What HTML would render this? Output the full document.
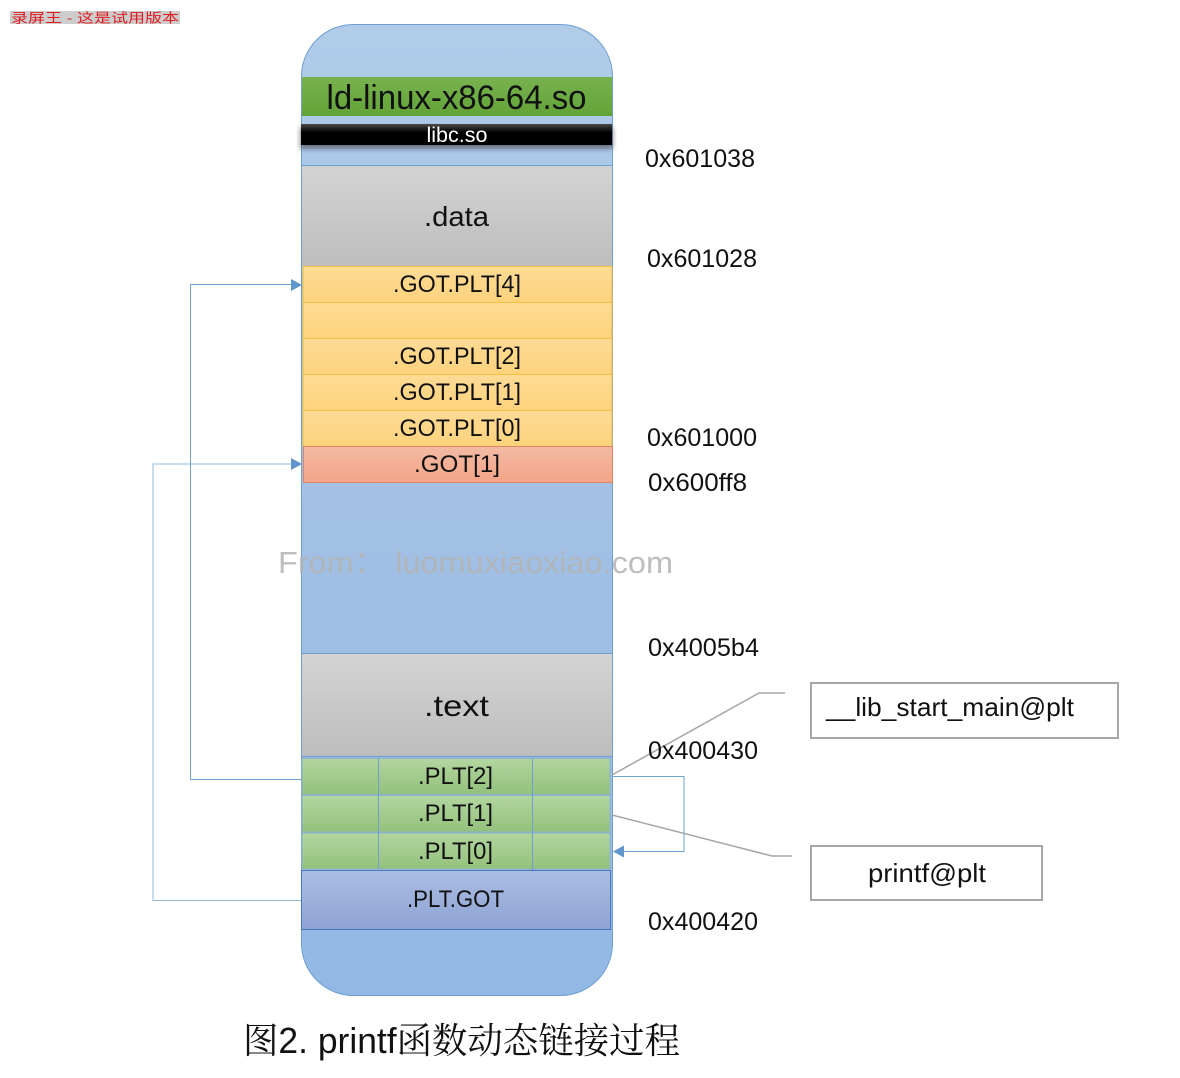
<!DOCTYPE html>
<html><head><meta charset="utf-8"><style>
html,body{margin:0;padding:0;background:#fff;width:1180px;height:1078px;overflow:hidden}
svg{display:block}
text{font-family:"Liberation Sans","Noto Sans CJK SC",sans-serif;fill:#111}
</style></head><body>
<svg width="1180" height="1078" viewBox="0 0 1180 1078" xmlns="http://www.w3.org/2000/svg">
<defs>
<linearGradient id="o" x1="0" y1="0" x2="0" y2="1"><stop offset="0" stop-color="#b0cce9"/><stop offset=".5" stop-color="#a3c0e4"/><stop offset="1" stop-color="#91b9e4"/></linearGradient>
<linearGradient id="g1" x1="0" y1="0" x2="0" y2="1"><stop offset="0" stop-color="#78b24f"/><stop offset="1" stop-color="#62a337"/></linearGradient>
<linearGradient id="k" x1="0" y1="0" x2="0" y2="1"><stop offset="0" stop-color="#4a4a4a"/><stop offset=".4" stop-color="#000"/><stop offset="1" stop-color="#000"/></linearGradient>
<linearGradient id="gr" x1="0" y1="0" x2="0" y2="1"><stop offset="0" stop-color="#d3d3d3"/><stop offset="1" stop-color="#bdbdbd"/></linearGradient>
<linearGradient id="y" x1="0" y1="0" x2="0" y2="1"><stop offset="0" stop-color="#fedb95"/><stop offset="1" stop-color="#fdd27c"/></linearGradient>
<linearGradient id="r" x1="0" y1="0" x2="0" y2="1"><stop offset="0" stop-color="#f3bba4"/><stop offset="1" stop-color="#f4a488"/></linearGradient>
<linearGradient id="p" x1="0" y1="0" x2="0" y2="1"><stop offset="0" stop-color="#b3d6a0"/><stop offset="1" stop-color="#93c17b"/></linearGradient>
<linearGradient id="b" x1="0" y1="0" x2="0" y2="1"><stop offset="0" stop-color="#abbde3"/><stop offset="1" stop-color="#8ea3d4"/></linearGradient>
<filter id="s" x="-5%" y="-50%" width="110%" height="220%"><feGaussianBlur stdDeviation="2.5"/></filter>
</defs>

<rect x="10" y="11" width="170" height="13" fill="#cdcdcd"/>
<text x="11" y="22.500" font-size="13" style="fill:#e01a20" textLength="168" lengthAdjust="spacingAndGlyphs">录屏王 - 这是试用版本</text>

<rect x="301.500" y="24.500" width="311" height="971" rx="52" ry="52" fill="url(#o)" stroke="#6f9fd2" stroke-width="1"/>

<rect x="302" y="77" width="310" height="39" fill="url(#g1)"/>
<text x="456.500" y="109" font-size="34" text-anchor="middle" textLength="260" lengthAdjust="spacingAndGlyphs">ld-linux-x86-64.so</text>

<rect x="300" y="127" width="313" height="22" fill="#333" opacity=".55" filter="url(#s)"/>
<rect x="301" y="124" width="311" height="21" fill="url(#k)"/>
<text x="457" y="142" font-size="21" text-anchor="middle" style="fill:#fff" textLength="61" lengthAdjust="spacingAndGlyphs">libc.so</text>

<rect x="302" y="165.500" width="310" height="100.500" fill="url(#gr)"/>
<line x1="302" y1="165.500" x2="612" y2="165.500" stroke="#6f9fd2"/>
<text x="456.500" y="226" font-size="28" text-anchor="middle" textLength="65" lengthAdjust="spacingAndGlyphs">.data</text>

<g stroke="#f5bf3f" stroke-width="1" fill="url(#y)">
<rect x="303" y="266.500" width="309" height="36"/>
<rect x="303" y="302.500" width="309" height="36"/>
<rect x="303" y="338.500" width="309" height="36"/>
<rect x="303" y="374.500" width="309" height="36"/>
<rect x="303" y="410.500" width="309" height="36"/>
</g>
<rect x="303.500" y="446.500" width="309" height="36" fill="url(#r)" stroke="#e0865f"/>
<g font-size="24" text-anchor="middle">
<text x="457" y="292" textLength="128" lengthAdjust="spacingAndGlyphs">.GOT.PLT[4]</text>
<text x="457" y="364" textLength="128" lengthAdjust="spacingAndGlyphs">.GOT.PLT[2]</text>
<text x="457" y="400" textLength="128" lengthAdjust="spacingAndGlyphs">.GOT.PLT[1]</text>
<text x="457" y="436" textLength="128" lengthAdjust="spacingAndGlyphs">.GOT.PLT[0]</text>
<text x="457" y="472" textLength="86" lengthAdjust="spacingAndGlyphs">.GOT[1]</text>
</g>

<rect x="302" y="654" width="310" height="102" fill="url(#gr)"/>
<line x1="302" y1="653.500" x2="612" y2="653.500" stroke="#6f9fd2"/>
<line x1="302" y1="756.500" x2="612" y2="756.500" stroke="#6f9fd2"/>
<text x="456.500" y="716" font-size="30" text-anchor="middle" textLength="65" lengthAdjust="spacingAndGlyphs">.text</text>

<g fill="url(#p)" stroke="#8db3c8" stroke-width="1">
<rect x="302" y="758.500" width="308" height="36"/>
<rect x="302" y="795.500" width="308" height="36.500"/>
<rect x="302" y="833" width="308" height="36"/>
</g>
<g stroke="#6f9fd2" stroke-width="1">
<line x1="378.500" y1="758" x2="378.500" y2="869"/>
<line x1="532.500" y1="758" x2="532.500" y2="870"/>
</g>
<g font-size="24" text-anchor="middle">
<text x="455.500" y="784" textLength="75" lengthAdjust="spacingAndGlyphs">.PLT[2]</text>
<text x="455.500" y="821" textLength="75" lengthAdjust="spacingAndGlyphs">.PLT[1]</text>
<text x="455.500" y="859" textLength="75" lengthAdjust="spacingAndGlyphs">.PLT[0]</text>
</g>
<rect x="301.500" y="870.500" width="309" height="59" fill="url(#b)" stroke="#4a76bd"/>
<text x="455.500" y="907" font-size="24" text-anchor="middle" textLength="97" lengthAdjust="spacingAndGlyphs">.PLT.GOT</text>

<!-- connectors -->
<g fill="none" stroke="#6ea3cf" stroke-width="1">
<polyline points="301,779.500 190.500,779.500 190.500,284.500 292,284.500"/>
<polyline points="301,900.500 153,900.500 153,464 292,464" stroke="#8fbadc"/>
<polyline points="612,776.500 684,776.500 684,851.500 623,851.500"/>
</g>
<g fill="#5f97cd">
<polygon points="291,279 302,285 291,291"/>
<polygon points="291,458 302,464 291,470"/>
<polygon points="624,845.500 613,851.500 624,857.500"/>
</g>
<g fill="none" stroke="#a6a6a6" stroke-width="1.500">
<polyline points="612,775 759,693 785,693"/>
<polyline points="612,815 772,856 792,856"/>
</g>

<!-- addresses -->
<g font-size="25">
<text x="645" y="167" textLength="110" lengthAdjust="spacingAndGlyphs">0x601038</text>
<text x="647" y="267" textLength="110" lengthAdjust="spacingAndGlyphs">0x601028</text>
<text x="647" y="446" textLength="110" lengthAdjust="spacingAndGlyphs">0x601000</text>
<text x="648" y="491" textLength="99" lengthAdjust="spacingAndGlyphs">0x600ff8</text>
<text x="648" y="656" textLength="111" lengthAdjust="spacingAndGlyphs">0x4005b4</text>
<text x="648" y="759" textLength="110" lengthAdjust="spacingAndGlyphs">0x400430</text>
<text x="648" y="930" textLength="110" lengthAdjust="spacingAndGlyphs">0x400420</text>
</g>

<!-- page watermark -->
<text x="278" y="573" font-size="31" style="fill:#b3b3b3;fill-opacity:.85" textLength="395" lengthAdjust="spacingAndGlyphs">From：  luomuxiaoxiao.com</text>

<!-- side boxes -->
<rect x="811" y="683" width="307" height="55" fill="#fff" stroke="#a6a6a6" stroke-width="2"/>
<text x="826" y="716" font-size="26" textLength="248" lengthAdjust="spacingAndGlyphs">__lib_start_main@plt</text>
<rect x="811" y="846" width="231" height="54" fill="#fff" stroke="#a6a6a6" stroke-width="2"/>
<text x="868" y="882" font-size="26" textLength="118" lengthAdjust="spacingAndGlyphs">printf@plt</text>

<!-- caption -->
<text x="243" y="1053" font-size="36" style="font-family:'Liberation Sans','Noto Serif CJK SC',serif" textLength="437" lengthAdjust="spacingAndGlyphs">图2. printf函数动态链接过程</text>
</svg>
</body></html>
